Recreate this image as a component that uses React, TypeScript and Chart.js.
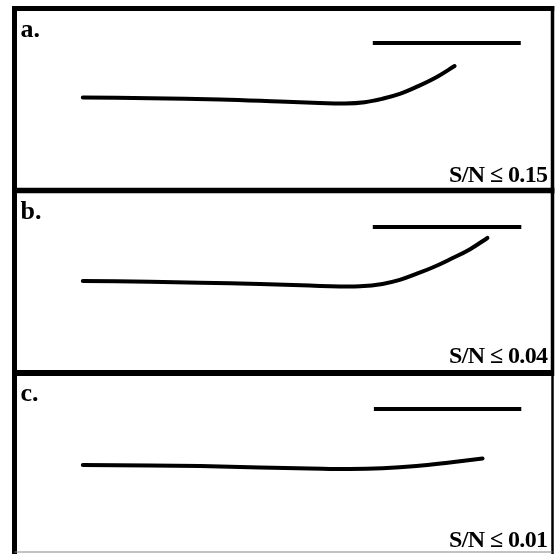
import React, { useEffect, useRef } from 'react';
import { Chart, registerables } from 'chart.js';

Chart.register(...registerables);

// ---- data (abstract units: x 0..100 across the panel, y 0..100 up the panel)
const panelLabels = ['a.', 'b.', 'c.'];
const snLabels = ['S/N \u2264 0.15', 'S/N \u2264 0.04', 'S/N \u2264 0.01'];

const curveAX = [12.7, 25.2, 38.2, 49.3, 56.7, 61.4, 65.1, 68.4, 71.6, 74.7, 78.5, 81.8];
const curveAY = [51.1, 50.7, 50.0, 48.9, 48.1, 47.8, 48.5, 50.4, 53.1, 56.9, 62.4, 68.4];
const refAX = [66.6, 94.1];
const refAY = [81.0, 81.0];

const curveBX = [12.7, 25.2, 34.5, 45.6, 54.9, 60.4, 64.2, 68.4, 71.6, 74.7, 77.7, 80.9, 84.6, 87.9];
const curveBY = [50.4, 50.0, 49.5, 48.8, 47.9, 47.4, 47.5, 48.8, 51.0, 54.3, 57.8, 62.2, 67.7, 74.0];
const refBX = [66.6, 94.2];
const refBY = [80.0, 80.0];

const curveCX = [12.7, 25.2, 34.5, 45.6, 54.9, 62.3, 68.4, 74.7, 80.9, 87.0];
const curveCY = [48.6, 48.3, 48.0, 47.2, 46.7, 46.4, 46.8, 48.0, 50.0, 52.2];
const refCX = [66.8, 94.2];
const refCY = [79.9, 79.9];

const curvesX = [curveAX, curveBX, curveCX];
const curvesY = [curveAY, curveBY, curveCY];
const refsX = [refAX, refBX, refCX];
const refsY = [refAY, refBY, refCY];

// ---- layout (styles / positions only)
const layouts = [
  { top: 0, height: 194, padTop: 8.5, padBottom: 3.5, topW: 5, rightW: 3.5, bottomW: 0, noteOffset: 8.5 },
  { top: 187, height: 190, padTop: 3.5, padBottom: 4, topW: 5.5, rightW: 3.5, bottomW: 0, noteOffset: 10 },
  { top: 369, height: 185, padTop: 4, padBottom: 2, topW: 6, rightW: 2.5, bottomW: 1.2, noteOffset: 5 },
];

const framePlugin = {
  id: 'panelFrame',
  afterDraw(chart: any, _args: any, opts: any) {
    const { ctx, chartArea } = chart;
    const { left, right, top, bottom } = chartArea;
    const lw = 5;
    ctx.save();
    ctx.strokeStyle = '#000';
    ctx.lineCap = 'butt';
    // top edge
    ctx.lineWidth = opts.topW;
    ctx.beginPath();
    ctx.moveTo(left - lw / 2, top);
    ctx.lineTo(right + opts.rightW / 2, top);
    ctx.stroke();
    // left edge
    ctx.lineWidth = lw;
    ctx.beginPath();
    ctx.moveTo(left, top - opts.topW / 2);
    ctx.lineTo(left, bottom + 3);
    ctx.stroke();
    // right edge
    ctx.lineWidth = opts.rightW;
    ctx.beginPath();
    ctx.moveTo(right, top - opts.topW / 2);
    ctx.lineTo(right, bottom + 3);
    ctx.stroke();
    if (opts.bottomW > 0) {
      ctx.strokeStyle = '#888';
      ctx.lineWidth = opts.bottomW;
      ctx.beginPath();
      ctx.moveTo(left, bottom);
      ctx.lineTo(right, bottom);
      ctx.stroke();
    }
    // texts
    ctx.fillStyle = '#000';
    ctx.textBaseline = 'alphabetic';
    ctx.font = 'bold 26px "Liberation Serif", "DejaVu Serif", serif';
    ctx.textAlign = 'left';
    ctx.fillText(opts.label, left + 6, top + 28);
    ctx.font = 'bold 24px "Liberation Serif", "DejaVu Serif", serif';
    try { (ctx as any).letterSpacing = '-0.6px'; } catch (e) {}
    ctx.textAlign = 'right';
    ctx.fillText(opts.note, right - 5, bottom - opts.noteOffset);
    try { (ctx as any).letterSpacing = '0px'; } catch (e) {}
    ctx.restore();
  },
};

function Panel({ idx }: { idx: number }) {
  const ref = useRef<HTMLCanvasElement>(null);
  const L = layouts[idx];
  useEffect(() => {
    const xs = curvesX[idx];
    const ys = curvesY[idx];
    const rx = refsX[idx];
    const ry = refsY[idx];
    const chart = new Chart(ref.current as HTMLCanvasElement, {
      type: 'line',
      data: {
        datasets: [
          {
            label: 'ref',
            data: rx.map((x, i) => ({ x, y: ry[i] })),
            borderColor: '#000',
            borderWidth: 4,
            pointRadius: 0,
            fill: false,
            borderCapStyle: 'butt',
          },
          {
            label: 'curve',
            data: xs.map((x, i) => ({ x, y: ys[i] })),
            borderColor: '#000',
            borderWidth: 4,
            pointRadius: 0,
            fill: false,
            tension: 0.4,
            borderCapStyle: 'round',
            borderJoinStyle: 'round',
          },
        ],
      },
      options: {
        responsive: false,
        animation: false,
        devicePixelRatio: 1,
        layout: { padding: { left: 14.5, right: 3.5, top: L.padTop, bottom: L.padBottom } },
        scales: {
          x: { type: 'linear', min: 0, max: 100, display: false },
          y: { type: 'linear', min: 0, max: 100, display: false },
        },
        plugins: {
          legend: { display: false },
          tooltip: { enabled: false },
          panelFrame: {
            label: panelLabels[idx],
            note: snLabels[idx],
            topW: L.topW,
            rightW: L.rightW,
            bottomW: L.bottomW,
            noteOffset: L.noteOffset,
          },
        } as any,
      },
      plugins: [framePlugin],
    } as any);
    return () => chart.destroy();
  }, [idx]);
  return (
    <canvas
      ref={ref}
      width={556}
      height={L.height}
      style={{ position: 'absolute', left: 0, top: L.top, width: 556, height: L.height }}
    />
  );
}

export default function App() {
  return (
    <div style={{ position: 'absolute', left: 0, top: 0, width: 556, height: 554, background: '#fff', overflow: 'hidden' }}>
      <Panel idx={0} />
      <Panel idx={1} />
      <Panel idx={2} />
    </div>
  );
}
